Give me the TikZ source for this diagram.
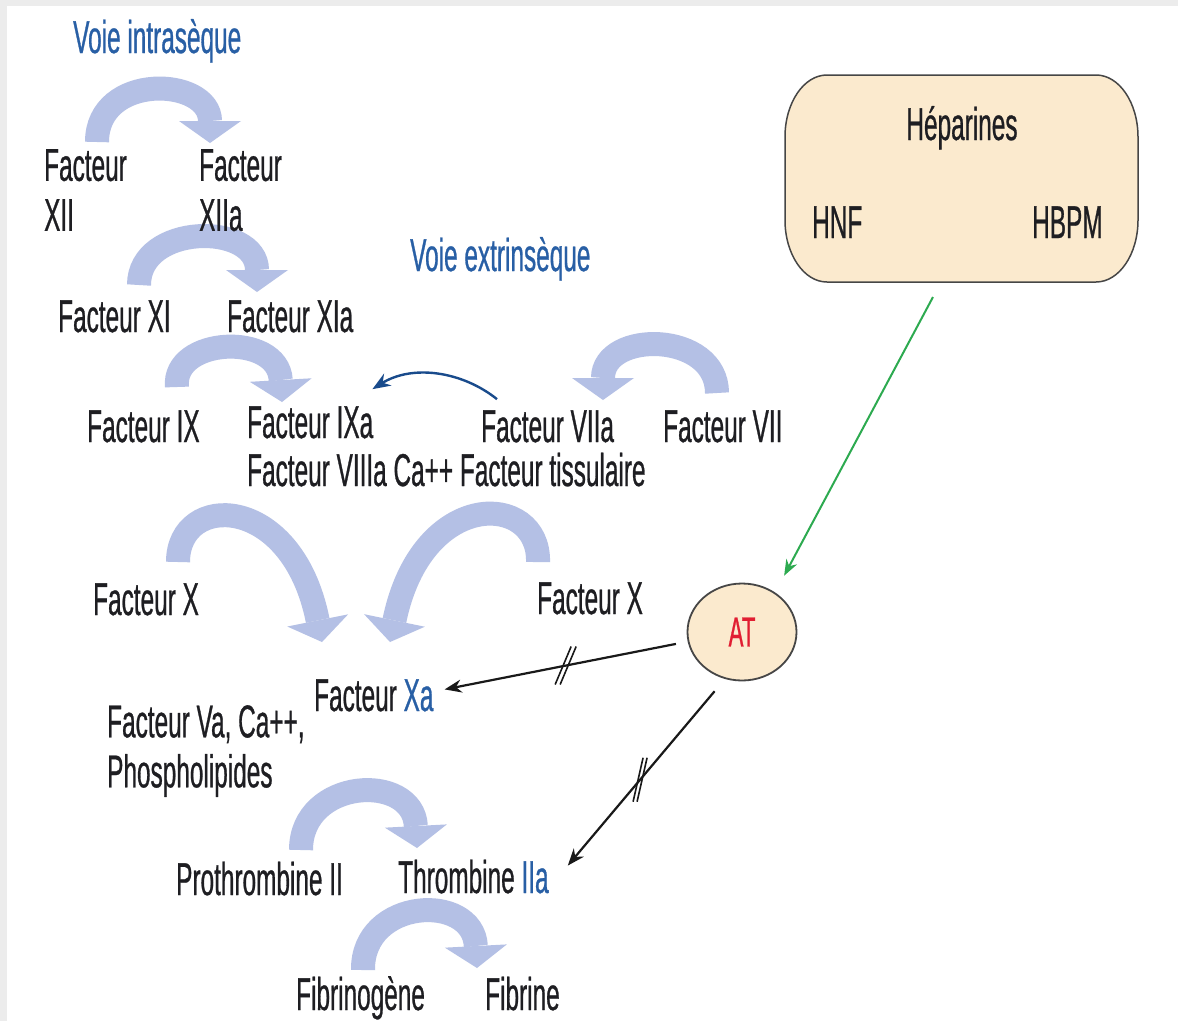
\documentclass[tikz,border=0pt]{standalone}
\usepackage{fontspec}
\setmainfont{Liberation Sans}[FakeStretch=0.53,FakeBold=0.6]
\usetikzlibrary{arrows.meta,shapes.geometric,calc}
\definecolor{txt}{RGB}{30,30,34}
\definecolor{lblue}{RGB}{40,95,165}
\definecolor{fatblue}{RGB}{180,192,229}
\definecolor{boxfill}{RGB}{251,234,206}
\definecolor{edge}{RGB}{70,70,70}
\definecolor{atred}{RGB}{225,30,50}
\definecolor{grn}{RGB}{45,170,80}
\definecolor{dblue}{RGB}{25,75,140}
\definecolor{frame}{RGB}{236,236,236}
\begin{document}
\begin{tikzpicture}[x=1pt,y=-1pt,
  lbl/.style={inner sep=0pt, anchor=base west, text=txt, font=\fontsize{46}{50}\selectfont},
  ml/.style={lbl, anchor=north west, align=left},
  fat/.style={line width=24pt, draw=fatblue, -{Triangle[width=62pt,length=22pt,line width=0pt]}},
  blk/.style={line width=2.2pt, draw=black!90, -{Stealth[length=17pt,width=13pt]}},
  slashmark/.style={line width=1.6pt, draw=black!90},
]
\useasboundingbox (0,0) rectangle (1178,1021);
\fill[frame] (0,0) rectangle (1178,1021);
\fill[white] (7,6) rectangle (1178,1021);

% fat process arrows
\coordinate (a1s) at (97,142);  \coordinate (a1e) at (210,143);
\coordinate (a2s) at (139,285); \coordinate (a2e) at (257,292);
\coordinate (a3s) at (177,387); \coordinate (a3e) at (282,402);
\coordinate (a4s) at (717,393); \coordinate (a4e) at (603,400);
\coordinate (a5s) at (178,562); \coordinate (a5e) at (322,642);
\coordinate (a6s) at (538,562); \coordinate (a6e) at (390,642);
\coordinate (a7s) at (301,850); \coordinate (a7e) at (417,848);
\coordinate (a8s) at (363,970); \coordinate (a8e) at (477,968);
\draw[fat] (a1s) .. controls +(0,-70) and +(0,-66) .. (a1e);
\draw[fat] (a2s) .. controls +(0,-62) and +(0,-70) .. (a2e);
\draw[fat] (a3s) .. controls +(-5,-50) and +(-4,-70) .. (a3e);
\draw[fat] (a4s) .. controls +(0,-62) and +(0,-70) .. (a4e);
\draw[fat] (a5s) .. controls +(0,-70) and +(-30,-150) .. (a5e);
\draw[fat] (a6s) .. controls +(2,-70) and +(32,-155) .. (a6e);
\draw[fat] (a7s) .. controls +(0,-72) and +(-4,-76) .. (a7e);
\draw[fat] (a8s) .. controls +(-1,-72) and +(-4,-76) .. (a8e);

% labels
\node[lbl, text=lblue] (vintr) at (73,53) {Voie intrasèque};
\node[ml] (f12) at (44,149) {Facteur\\XII};
\node[ml] (f12a) at (199,149) {Facteur\\XIIa};
\node[lbl, text=lblue] (vextr) at (410,271) {Voie extrinsèque};
\node[lbl] (f11) at (58,332) {Facteur XI};
\node[lbl] (f11a) at (227,332) {Facteur XIa};
\node[lbl] (f9) at (87,442) {Facteur IX};
\node[lbl] (f9a) at (247,438) {Facteur IXa};
\node[lbl] (f8a) at (247,486) {Facteur VIIIa Ca++ Facteur tissulaire};
\node[lbl] (f7a) at (481,442) {Facteur VIIa};
\node[lbl] (f7) at (663,442) {Facteur VII};
\node[lbl] (f10l) at (93,615) {Facteur X};
\node[lbl] (f10r) at (537,614) {Facteur X};
\node[lbl] (f10a) at (314,711) {Facteur \textcolor{lblue}{Xa}};
\node[ml] (f5a) at (107,705) {Facteur Va, Ca++,\\Phospholipides};
\node[lbl] (pro) at (176,895) {Prothrombine II};
\node[lbl] (thr) at (398,893) {Thrombine \textcolor{lblue}{IIa}};
\node[lbl] (fbg) at (296,1010) {Fibrinogène};
\node[lbl] (fbn) at (485,1010) {Fibrine};

% heparin box
\draw[draw=edge, line width=1.5pt, fill=boxfill]
  (785,137) arc[start angle=180, end angle=270, x radius=42, y radius=62]
  -- (1096,75) arc[start angle=270, end angle=360, x radius=42, y radius=62]
  -- (1138,220) arc[start angle=0, end angle=90, x radius=42, y radius=62]
  -- (827,282) arc[start angle=90, end angle=180, x radius=42, y radius=62]
  -- cycle;
\node[lbl, anchor=base] (hept) at (962,140) {Héparines};
\node[lbl] (hnf) at (812,238) {HNF};
\node[lbl] (hbpm) at (1032,238) {HBPM};
\coordinate (g0) at (933,297);

% AT
\node[ellipse, draw=edge, line width=1.8pt, fill=boxfill, minimum width=109pt,
  minimum height=97pt, inner sep=0pt, text=atred, font=\fontsize{42}{46}\selectfont] (at) at (742,632) {AT};

% connectors
\draw[grn, line width=2pt, -{Stealth[length=16pt,width=12pt]}, shorten >=19pt] (g0) -- (at.50);
\draw[dblue, line width=2.4pt, -{Stealth[length=18pt,width=14pt]}]
  ([shift={(16,-11)}]f7a.north west) .. controls +(-35,-28) and +(40,-25) .. ([shift={(-1,-17)}]f9a.north east);

\draw[blk, shorten <=12pt] (at.190) -- ([shift={(11,-6)}]f10a.east)
  coordinate[pos=0.5] (s1);
\draw[slashmark] ([shift={(10,-19)}]s1) -- ([shift={(-6,19)}]s1);
\draw[slashmark] ([shift={(5,-19)}]s1) -- ([shift={(-11,19)}]s1);

\draw[blk, shorten <=16pt] (at.250) -- ([shift={(19,-11)}]thr.east)
  coordinate[pos=0.54] (s2);
\draw[slashmark] ([shift={(7,-22)}]s2) -- ([shift={(-3,22)}]s2);
\draw[slashmark] ([shift={(3,-22)}]s2) -- ([shift={(-7,22)}]s2);
\end{tikzpicture}
\end{document}
